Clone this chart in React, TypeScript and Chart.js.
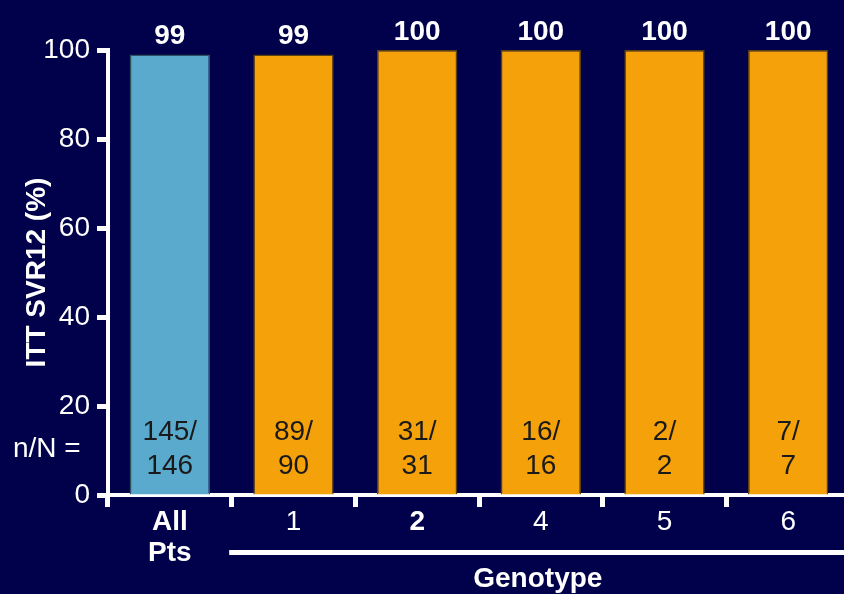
import React, { useEffect, useRef } from "react";
import { Chart, registerables } from "chart.js";

Chart.register(...registerables);

// ---- data ----
const categories: (string | string[])[] = [["All", "Pts"], "1", "2", "4", "5", "6"];
const svrPercent = [99, 99, 100, 100, 100, 100];
const responders = [145, 89, 31, 16, 2, 7];
const totals = [146, 90, 31, 16, 2, 7];
const boldCategoryIndex = [0, 2];
const groupTitle = "Genotype";
const yTitle = "ITT SVR12 (%)";
const nNPrefix = "n/N =";

// ---- style ----
const BG = "#00004b";
const BLUE = "#5aaacd";
const ORANGE = "#f5a20a";
const FONT = "'Liberation Sans', Arial, Helvetica, sans-serif";
const VIEW_W = 844;
const VIEW_H = 594;
const CANVAS_W = 850;

const annotate = {
  id: "annotate",
  afterDatasetsDraw(chart: any) {
    const { ctx, chartArea, scales } = chart;
    const x = scales.x;
    const y = scales.y;
    ctx.save();
    // value labels on top of bars
    ctx.fillStyle = "#ffffff";
    ctx.font = `bold 28px ${FONT}`;
    ctx.textAlign = "center";
    ctx.textBaseline = "alphabetic";
    svrPercent.forEach((v, i) => {
      ctx.fillText(String(v), x.getPixelForValue(i), y.getPixelForValue(v) - 10);
    });
    // n/N labels inside bars
    ctx.fillStyle = "#1a1a1a";
    ctx.font = `28px ${FONT}`;
    ctx.textBaseline = "middle";
    responders.forEach((n, i) => {
      const cx = x.getPixelForValue(i);
      ctx.fillText(`${n}/`, cx, chartArea.bottom - 63);
      ctx.fillText(String(totals[i]), cx, chartArea.bottom - 29);
    });
    // n/N = prefix
    ctx.fillStyle = "#ffffff";
    ctx.textAlign = "left";
    ctx.fillText(nNPrefix, 13, chartArea.bottom - 46);
    // Genotype bracket line and title
    const startX = (x.getPixelForValue(0) + x.getPixelForValue(1)) / 2;
    ctx.fillStyle = "#ffffff";
    ctx.fillRect(startX - 2.5, chartArea.bottom + 55, chart.width - startX + 2.5, 5);
    ctx.font = `bold 28px ${FONT}`;
    ctx.textAlign = "center";
    ctx.textBaseline = "alphabetic";
    ctx.fillText(groupTitle, (startX + VIEW_W) / 2, chartArea.bottom + 92);
    ctx.restore();
  },
};

export default function App() {
  const ref = useRef<HTMLCanvasElement | null>(null);
  useEffect(() => {
    if (!ref.current) return;
    const chart = new Chart(ref.current, {
      type: "bar",
      data: {
        labels: categories as any,
        datasets: [
          {
            data: svrPercent,
            backgroundColor: svrPercent.map((_, i) => (i === 0 ? BLUE : ORANGE)),
            borderColor: svrPercent.map((_, i) => (i === 0 ? "#2d4f5e" : "#5a4210")),
            borderWidth: 1.5,
            barPercentage: 0.65,
            categoryPercentage: 1,
          },
        ],
      },
      options: {
        responsive: false,
        animation: false,
        events: [],
        layout: { padding: { top: 50, left: 0, right: 0, bottom: 0 } },
        plugins: { legend: { display: false }, tooltip: { enabled: false } },
        scales: {
          x: {
            afterFit: (s: any) => {
              s.height = VIEW_H - 495;
            },
            grid: {
              display: true,
              offset: true,
              drawOnChartArea: false,
              drawTicks: true,
              tickLength: 12,
              tickWidth: 5,
              tickColor: "#ffffff",
              color: "#ffffff",
            },
            border: { display: true, color: "#ffffff", width: 4 },
            ticks: {
              color: "#ffffff",
              padding: 0,
              maxRotation: 0,
              autoSkip: false,
              font: (c: any) => ({
                family: FONT,
                size: 28,
                lineHeight: 1.1,
                weight: boldCategoryIndex.includes(c.index) ? "bold" : "normal",
              }),
            },
          },
          y: {
            min: 0,
            max: 100,
            afterFit: (s: any) => {
              s.width = 108;
            },
            grid: {
              display: true,
              drawOnChartArea: false,
              drawTicks: true,
              tickLength: 11,
              tickWidth: 5,
              tickColor: "#ffffff",
              color: "#ffffff",
            },
            border: { display: true, color: "#ffffff", width: 4 },
            ticks: {
              stepSize: 20,
              color: "#ffffff",
              padding: 7,
              font: { family: FONT, size: 28 },
            },
            title: {
              display: true,
              text: yTitle,
              color: "#ffffff",
              font: { family: FONT, size: 28, weight: "bold" },
              padding: { top: 20, bottom: 0 },
            },
          },
        },
      },
      plugins: [annotate],
    });
    return () => chart.destroy();
  }, []);
  return (
    <div
      style={{
        position: "fixed",
        left: 0,
        top: 0,
        width: VIEW_W,
        height: VIEW_H,
        overflow: "hidden",
        background: BG,
      }}
    >
      <canvas ref={ref} width={CANVAS_W} height={VIEW_H} style={{ display: "block" }} />
    </div>
  );
}
